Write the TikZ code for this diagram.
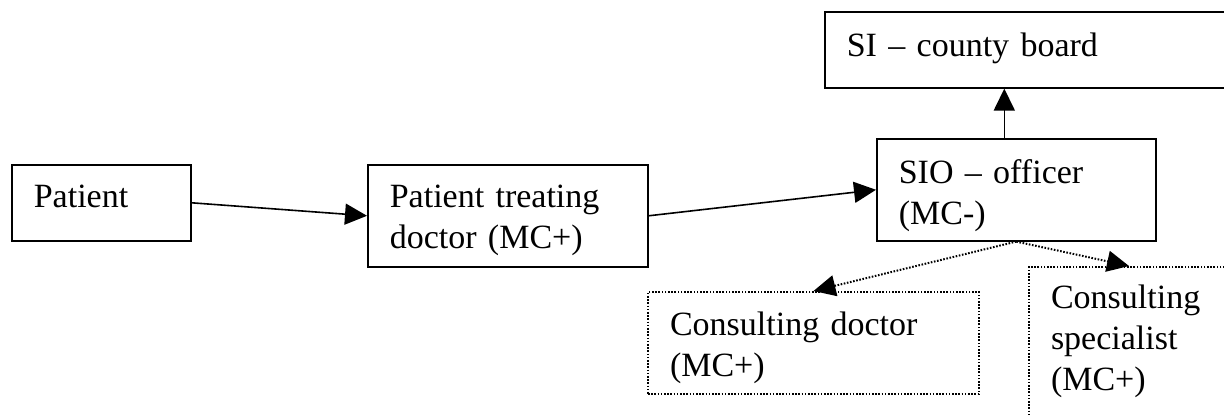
\documentclass[tikz,border=0pt]{standalone}
\usepackage{fontspec}
\setmainfont{Liberation Serif}
\usetikzlibrary{arrows.meta}
\begin{document}
\begin{tikzpicture}[x=0.5pt,y=-0.5pt,
    box/.style={draw,line width=0.8pt,anchor=north west,inner xsep=11pt,inner ysep=0pt,
      align=left,font=\fontsize{17}{20.5}\selectfont},
    dotbox/.style={box,line width=1pt,dash pattern=on 0.8pt off 0.8pt},
    link/.style={line width=0.8pt,-{Triangle[length=11pt,width=10.5pt]}},
    dotlink/.style={link,line width=1pt,dash pattern=on 0.8pt off 0.8pt}]
  \useasboundingbox (0,0) rectangle (1224,415);
  \clip (0,0) rectangle (1224,415);
  % boxes
  \node[box,text width=67.5pt,text height=21.5pt,text depth=16.5pt] (pat) at (11,164) {Patient};
  \node[box,text width=118pt,text height=21.5pt,text depth=29.5pt] (ptd) at (367,164)
    {Patient treating\\doctor (MC+)};
  \node[box,text width=117.5pt,text height=22.5pt,text depth=28.5pt] (sio) at (876,138)
    {SIO \textendash{} officer\\(MC-)};
  \node[box,text width=183.5pt,text height=22.5pt,text depth=15.5pt] (si) at (824,11)
    {SI \textendash{} county board};
  \node[dotbox,text width=143.5pt,text height=22pt,text depth=29pt] (cd) at (647,291)
    {Consulting doctor\\(MC+)};
  \node[dotbox,text width=78pt,text height=21pt,text depth=64pt] (cs) at (1028,266)
    {Consulting\\specialist\\(MC+)};
  % connectors
  \draw[link] (pat.east) -- (ptd.west);
  \draw[link] (ptd.east) -- (sio.west);
  \draw[link] ([xshift=-6pt]sio.north) -- ([xshift=-6pt]sio.north |- si.south);
  \draw[dotlink] (sio.south) -- (cd.north);
  \draw[dotlink] (sio.south) -- (cs.north);
\end{tikzpicture}
\end{document}
